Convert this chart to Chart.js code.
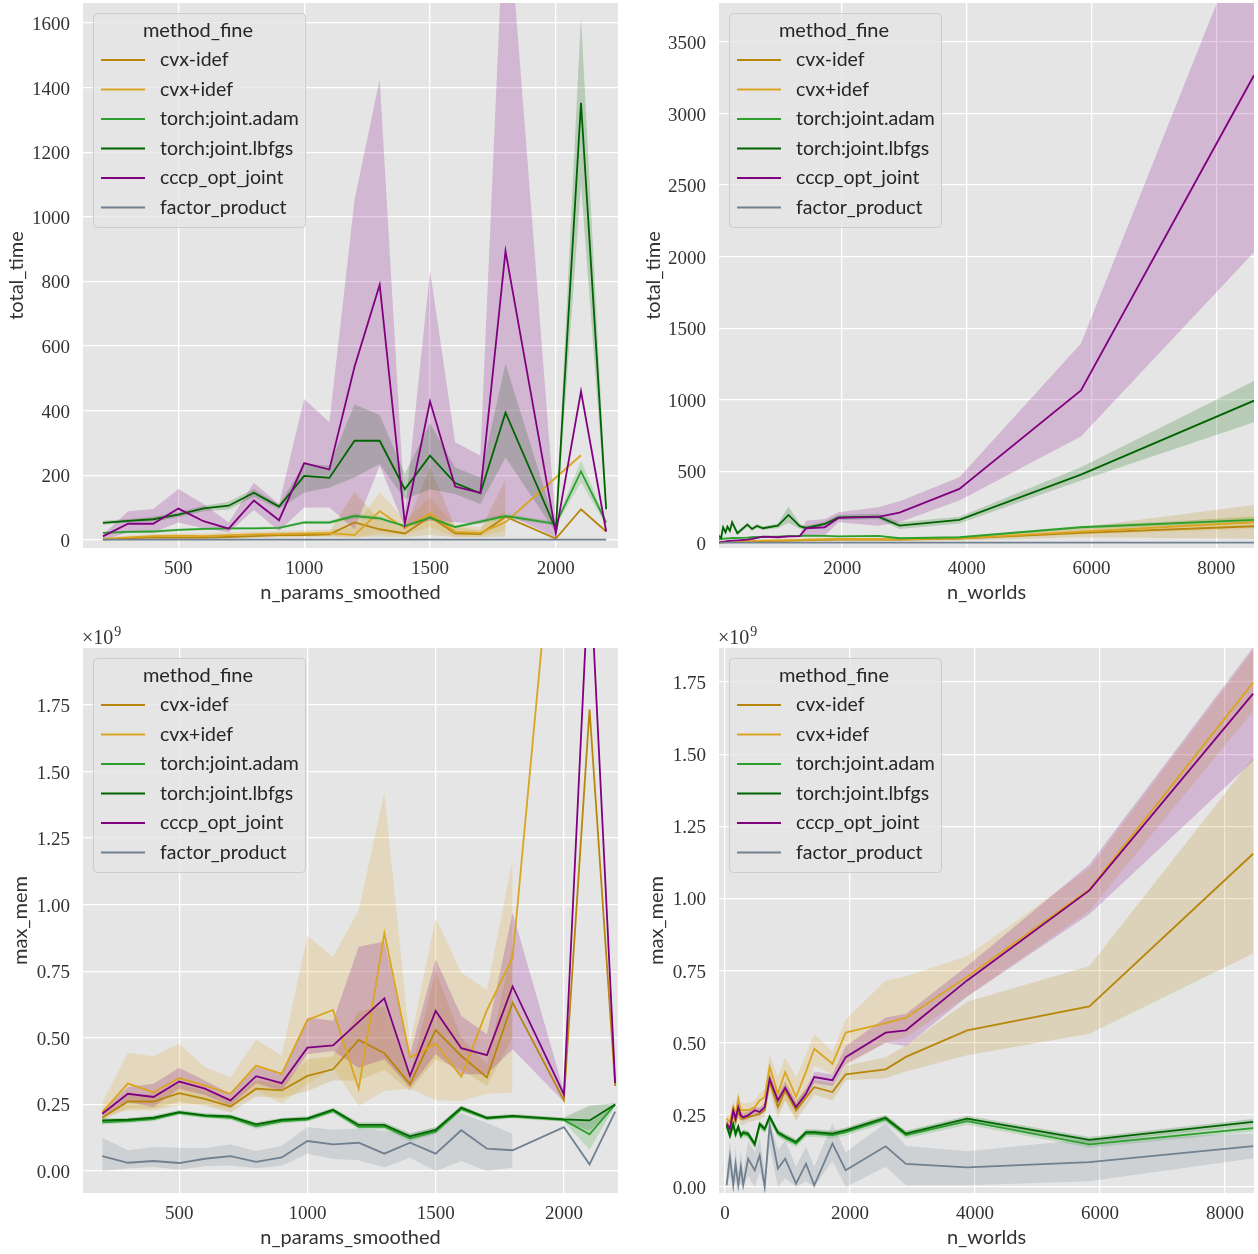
<!DOCTYPE html>
<html>
<head>
<meta charset="utf-8">
<script src="https://cdn.jsdelivr.net/npm/chart.js@4.4.0/dist/chart.umd.min.js"></script>
<style>
  html, body { margin: 0; padding: 0; background: #ffffff; }
  body { width: 1258px; height: 1254px; position: relative; overflow: hidden; }
  canvas { position: absolute; }
</style>
</head>
<body>
<canvas id="tl"></canvas>
<canvas id="tr"></canvas>
<canvas id="bl"></canvas>
<canvas id="br"></canvas>
<script>
// ---- method names and their colours (legend order) ----
const methods = ['cvx-idef', 'cvx+idef', 'torch:joint.adam', 'torch:joint.lbfgs', 'cccp_opt_joint', 'factor_product'];
const methodColors = ['#b8860b', '#daa520', '#2ca02c', '#006400', '#800080', '#708090'];

// ---- x values ----
const nParams = [200, 300, 400, 500, 600, 700, 800, 900, 1000, 1100, 1200, 1300, 1400, 1500, 1600, 1700, 1800, 2000, 2100, 2200];
const nParamsCvxPlus = [200, 300, 400, 500, 600, 700, 800, 900, 1000, 1100, 1200, 1300, 1400, 1500, 1600, 1700, 1800, 2100];
const nWorldsTime = [25, 60, 90, 130, 160, 200, 235, 320, 480, 555, 635, 730, 970, 1140, 1320, 1420, 1720, 1940, 2580, 2920, 3880, 5830, 8605];
const nWorldsMem = [26, 79, 132, 169, 212, 254, 291, 370, 476, 555, 635, 714, 846, 963, 1137, 1296, 1428, 1719, 1931, 2570, 2895, 3875, 5830, 8450];

// ---- total_time vs n_params_smoothed (mean, CI low, CI high) ----
const ptCvxMinus   = [1, 5, 8, 7, 7, 9, 12, 15, 15, 17, 54, 33, 20, 72, 20, 18, 72, 4, 95, 26];
const ptCvxMinusLo = [0, 2, 3, 3, 3, 4, 6, 8, 8, 10, 10, 10, 8, 15, 8, 8, 10];
const ptCvxMinusHi = [3, 9, 14, 12, 12, 15, 20, 24, 22, 25, 148, 60, 35, 224, 40, 30, 186];
const ptCvxPlus    = [3, 8, 12, 13, 12, 15, 17, 18, 20, 21, 15, 89, 36, 82, 25, 22, 55, 262];
const ptCvxPlusLo  = [1, 4, 6, 7, 6, 8, 9, 10, 12, 12, 5, 20, 15, 40, 10, 10, 30];
const ptCvxPlusHi  = [6, 14, 18, 20, 20, 24, 26, 28, 30, 32, 40, 148, 60, 130, 45, 40, 90];
const ptAdam       = [22, 25, 26, 31, 34, 36, 36, 37, 54, 54, 74, 67, 43, 69, 40, 57, 74, 50, 212, 54];
const ptAdamLo     = [18, 21, 22, 27, 30, 32, 32, 33, 49, 49, 66, 60, 38, 62, 36, 51, 66, 44, 178, 46];
const ptAdamHi     = [26, 29, 30, 35, 38, 40, 40, 41, 59, 59, 82, 74, 48, 76, 44, 63, 82, 56, 245, 62];
const ptLbfgs      = [53, 59, 64, 78, 98, 106, 146, 103, 198, 192, 307, 307, 157, 261, 176, 144, 394, 33, 1353, 95];
const ptLbfgsLo    = [47, 53, 57, 70, 89, 94, 134, 96, 147, 162, 193, 235, 126, 157, 142, 111, 255, 23, 1100, 70];
const ptLbfgsHi    = [59, 65, 72, 86, 106, 118, 158, 110, 235, 230, 419, 387, 204, 361, 224, 193, 545, 43, 1620, 120];
const ptCccp       = [11, 50, 50, 97, 58, 35, 122, 61, 238, 218, 536, 790, 51, 429, 165, 146, 894, 20, 460, 26];
const ptCccpLo     = [0, 23, 23, 54, 36, 23, 93, 28, 100, 100, 33, 230, 40, 60, 55, 50, 80, 8];
const ptCccpHi     = [16, 89, 96, 158, 111, 54, 177, 111, 436, 364, 1052, 1426, 85, 834, 302, 261, 2050, 45];
const ptFactor     = [1, 1, 1, 1, 1, 1, 1, 1, 1, 1, 1, 1, 1, 1, 1, 1, 1, 1, 1, 1];
const ptFactorLo   = [0, 0, 0, 0, 0, 0, 0, 0, 0, 0, 0, 0, 0, 0, 0, 0, 0];
const ptFactorHi   = [2, 2, 2, 2, 2, 2, 2, 2, 2, 2, 2, 2, 2, 2, 2, 2, 2];

// ---- total_time vs n_worlds ----
const wtCvxMinus   = [2, 3, 4, 5, 6, 7, 8, 9, 10, 12, 13, 14, 15, 17, 18, 20, 22, 24, 24, 23, 30, 70, 117];
const wtCvxMinusLo = [0, 1, 2, 2, 3, 3, 4, 4, 5, 6, 7, 7, 8, 9, 10, 11, 12, 14, 14, 14, 18, 40, 30];
const wtCvxMinusHi = [4, 5, 6, 8, 9, 11, 12, 14, 15, 18, 19, 21, 22, 25, 26, 29, 32, 34, 34, 32, 42, 110, 265];
const wtCvxPlus    = [3, 4, 5, 6, 7, 8, 9, 10, 12, 14, 15, 16, 18, 20, 22, 24, 26, 28, 28, 25, 32, 80, 145];
const wtCvxPlusLo  = [1, 2, 3, 4, 4, 5, 6, 6, 8, 9, 10, 10, 12, 13, 15, 16, 18, 20, 20, 18, 24, 60, 100];
const wtCvxPlusHi  = [5, 6, 7, 8, 10, 11, 12, 14, 16, 19, 20, 22, 24, 27, 29, 32, 34, 36, 36, 32, 40, 100, 190];
const wtAdam       = [28, 28, 30, 30, 32, 33, 35, 36, 38, 40, 42, 42, 45, 48, 50, 52, 50, 46, 50, 33, 40, 110, 161];
const wtAdamLo     = [22, 22, 24, 24, 26, 27, 29, 30, 32, 34, 36, 36, 39, 42, 44, 46, 44, 40, 44, 27, 34, 100, 140];
const wtAdamHi     = [34, 34, 36, 36, 38, 39, 41, 42, 44, 46, 48, 48, 51, 54, 56, 58, 56, 52, 56, 39, 46, 120, 182];
const wtLbfgs      = [50, 35, 110, 75, 114, 86, 144, 68, 128, 98, 119, 103, 121, 196, 117, 105, 133, 179, 184, 121, 161, 478, 994];
const wtLbfgsLo    = [35, 20, 90, 60, 98, 70, 125, 55, 112, 84, 104, 90, 105, 140, 100, 92, 118, 160, 168, 98, 137, 436, 844];
const wtLbfgsHi    = [65, 50, 130, 90, 130, 102, 163, 82, 144, 112, 134, 116, 137, 255, 134, 118, 150, 198, 205, 145, 184, 529, 1131];
const wtCccp       = [5, 7, 9, 11, 13, 15, 16, 18, 23, 28, 36, 44, 40, 46, 48, 102, 110, 175, 182, 212, 378, 1065, 3267];
const wtCccpLo     = [0, 2, 4, 6, 8, 10, 11, 13, 17, 21, 28, 36, 33, 38, 40, 50, 51, 144, 120, 145, 296, 744, 2031];
const wtCccpHi     = [10, 12, 14, 16, 18, 20, 21, 23, 29, 35, 44, 52, 47, 54, 56, 155, 168, 214, 250, 291, 459, 1394, 4422];
const wtFactor     = [2, 2, 2, 2, 2, 2, 2, 2, 2, 2, 2, 2, 2, 2, 2, 2, 2, 2, 2, 2, 2, 2, 2];
const wtFactorLo   = [1, 1, 1, 1, 1, 1, 1, 1, 1, 1, 1, 1, 1, 1, 1, 1, 1, 1, 1, 1, 1, 1, 1];
const wtFactorHi   = [3, 3, 3, 3, 3, 3, 3, 3, 3, 3, 3, 3, 3, 3, 3, 3, 3, 3, 3, 3, 3, 3, 3];

// ---- max_mem (x 1e9) vs n_params_smoothed ----
const pmCvxMinus   = [0.2, 0.261, 0.261, 0.2925, 0.271, 0.2425, 0.309, 0.3025, 0.357, 0.382, 0.492, 0.442, 0.326, 0.529, 0.432, 0.351, 0.632, 0.266, 1.733, 0.319];
const pmCvxMinusLo = [0.19, 0.235, 0.235, 0.26, 0.245, 0.22, 0.28, 0.275, 0.30, 0.34, 0.34, 0.38, 0.30, 0.42, 0.38, 0.32, 0.50];
const pmCvxMinusHi = [0.21, 0.285, 0.29, 0.33, 0.30, 0.27, 0.34, 0.33, 0.42, 0.43, 0.60, 0.62, 0.36, 0.75, 0.50, 0.40, 0.85];
const pmCvxPlus    = [0.221, 0.328, 0.296, 0.349, 0.321, 0.29, 0.396, 0.365, 0.567, 0.605, 0.309, 0.893, 0.426, 0.478, 0.354, 0.604, 0.80, 3.9];
const pmCvxPlusLo  = [0.209, 0.2275, 0.2275, 0.246, 0.25, 0.234, 0.3025, 0.2525, 0.326, 0.388, 0.244, 0.30, 0.31, 0.266, 0.263, 0.29, 0.294];
const pmCvxPlusHi  = [0.259, 0.444, 0.431, 0.4775, 0.39, 0.3525, 0.4925, 0.434, 0.883, 0.804, 0.98, 1.42, 0.48, 0.95, 0.745, 0.68, 1.17];
const pmAdam       = [0.183, 0.187, 0.195, 0.218, 0.206, 0.2, 0.168, 0.186, 0.193, 0.225, 0.166, 0.166, 0.123, 0.148, 0.232, 0.197, 0.204, 0.192, 0.138, 0.25];
const pmAdamLo     = [0.175, 0.179, 0.187, 0.21, 0.198, 0.192, 0.158, 0.178, 0.185, 0.217, 0.156, 0.156, 0.111, 0.138, 0.224, 0.19, 0.197, 0.185, 0.08, 0.245];
const pmAdamHi     = [0.191, 0.195, 0.203, 0.226, 0.214, 0.208, 0.178, 0.194, 0.201, 0.233, 0.176, 0.176, 0.135, 0.158, 0.24, 0.204, 0.211, 0.199, 0.19, 0.255];
const pmLbfgs      = [0.19, 0.1925, 0.2, 0.221, 0.209, 0.205, 0.175, 0.1925, 0.198, 0.23, 0.173, 0.173, 0.13, 0.154, 0.238, 0.20, 0.207, 0.194, 0.19, 0.25];
const pmLbfgsLo    = [0.182, 0.185, 0.192, 0.213, 0.201, 0.197, 0.167, 0.185, 0.19, 0.222, 0.163, 0.163, 0.118, 0.144, 0.23, 0.193, 0.2, 0.187, 0.15, 0.245];
const pmLbfgsHi    = [0.198, 0.2, 0.208, 0.229, 0.217, 0.213, 0.183, 0.2, 0.206, 0.238, 0.183, 0.183, 0.142, 0.164, 0.246, 0.207, 0.214, 0.201, 0.245, 0.255];
const pmCccp       = [0.215, 0.29, 0.278, 0.336, 0.309, 0.265, 0.356, 0.33, 0.463, 0.472, 0.56, 0.648, 0.357, 0.601, 0.461, 0.435, 0.693, 0.288, 2.3, 0.33];
const pmCccpLo     = [0.205, 0.259, 0.24, 0.309, 0.285, 0.245, 0.33, 0.30, 0.438, 0.451, 0.388, 0.42, 0.313, 0.438, 0.363, 0.363, 0.457, 0.26];
const pmCccpHi     = [0.225, 0.315, 0.3275, 0.3875, 0.34, 0.29, 0.39, 0.37, 0.576, 0.564, 0.842, 0.862, 0.438, 0.795, 0.582, 0.514, 0.971, 0.30];
const pmFactor     = [0.056, 0.031, 0.0375, 0.03, 0.046, 0.056, 0.034, 0.051, 0.1125, 0.1, 0.106, 0.065, 0.106, 0.065, 0.153, 0.084, 0.078, 0.165, 0.025, 0.223];
const pmFactorLo   = [0.0, 0.009, 0.015, 0.005, 0.018, 0.021, 0.01, 0.02, 0.065, 0.045, 0.04, 0.013, 0.05, 0.0, 0.038, 0.0, 0.013];
const pmFactorHi   = [0.125, 0.0775, 0.09, 0.0875, 0.085, 0.1, 0.075, 0.095, 0.165, 0.155, 0.16, 0.15, 0.14, 0.165, 0.217, 0.18, 0.14];

// ---- max_mem (x 1e9) vs n_worlds ----
const wmCvxMinus   = [0.225, 0.19, 0.254, 0.225, 0.26, 0.237, 0.237, 0.242, 0.248, 0.254, 0.266, 0.364, 0.277, 0.335, 0.266, 0.31, 0.346, 0.329, 0.39, 0.408, 0.451, 0.543, 0.626, 1.155];
const wmCvxMinusLo = [0.21, 0.17, 0.235, 0.205, 0.24, 0.215, 0.215, 0.225, 0.23, 0.235, 0.245, 0.33, 0.24, 0.3, 0.23, 0.28, 0.32, 0.3, 0.37, 0.377, 0.40, 0.457, 0.531, 0.809];
const wmCvxMinusHi = [0.24, 0.21, 0.27, 0.245, 0.28, 0.26, 0.26, 0.26, 0.265, 0.275, 0.29, 0.40, 0.31, 0.37, 0.30, 0.34, 0.37, 0.36, 0.42, 0.45, 0.49, 0.642, 0.766, 1.488];
const wmCvxPlus    = [0.237, 0.225, 0.277, 0.25, 0.306, 0.266, 0.266, 0.266, 0.277, 0.30, 0.312, 0.418, 0.323, 0.398, 0.312, 0.40, 0.479, 0.427, 0.535, 0.568, 0.587, 0.729, 1.031, 1.748];
const wmCvxPlusLo  = [0.22, 0.2, 0.255, 0.225, 0.28, 0.245, 0.245, 0.245, 0.255, 0.275, 0.29, 0.37, 0.26, 0.3, 0.24, 0.33, 0.42, 0.39, 0.42, 0.5, 0.52, 0.66, 0.957, 1.65];
const wmCvxPlusHi  = [0.255, 0.25, 0.30, 0.275, 0.33, 0.29, 0.29, 0.29, 0.30, 0.325, 0.335, 0.46, 0.38, 0.45, 0.38, 0.46, 0.53, 0.47, 0.58, 0.716, 0.73, 0.80, 1.105, 1.86];
const wmAdam       = [0.21, 0.175, 0.215, 0.18, 0.205, 0.175, 0.185, 0.18, 0.145, 0.214, 0.198, 0.24, 0.185, 0.17, 0.15, 0.185, 0.185, 0.18, 0.19, 0.235, 0.18, 0.228, 0.148, 0.204];
const wmAdamLo     = [0.198, 0.163, 0.203, 0.168, 0.193, 0.163, 0.173, 0.168, 0.133, 0.202, 0.186, 0.228, 0.173, 0.158, 0.138, 0.173, 0.173, 0.168, 0.178, 0.223, 0.168, 0.216, 0.136, 0.192];
const wmAdamHi     = [0.222, 0.187, 0.227, 0.192, 0.217, 0.187, 0.197, 0.192, 0.157, 0.226, 0.21, 0.252, 0.197, 0.182, 0.162, 0.197, 0.197, 0.192, 0.202, 0.247, 0.192, 0.24, 0.16, 0.216];
const wmLbfgs      = [0.214, 0.179, 0.219, 0.185, 0.21, 0.179, 0.19, 0.185, 0.15, 0.219, 0.202, 0.245, 0.19, 0.175, 0.156, 0.19, 0.19, 0.185, 0.196, 0.24, 0.185, 0.237, 0.163, 0.226];
const wmLbfgsLo    = [0.204, 0.169, 0.209, 0.175, 0.2, 0.169, 0.18, 0.175, 0.14, 0.209, 0.192, 0.235, 0.18, 0.165, 0.146, 0.18, 0.18, 0.175, 0.186, 0.23, 0.175, 0.227, 0.153, 0.216];
const wmLbfgsHi    = [0.224, 0.189, 0.229, 0.195, 0.22, 0.189, 0.2, 0.195, 0.16, 0.229, 0.212, 0.255, 0.2, 0.185, 0.166, 0.2, 0.2, 0.195, 0.206, 0.25, 0.195, 0.247, 0.173, 0.236];
const wmCccp       = [0.219, 0.202, 0.266, 0.237, 0.277, 0.248, 0.242, 0.248, 0.266, 0.26, 0.277, 0.375, 0.3, 0.344, 0.277, 0.323, 0.381, 0.37, 0.45, 0.535, 0.543, 0.716, 1.028, 1.71];
const wmCccpLo     = [0.205, 0.19, 0.25, 0.225, 0.262, 0.235, 0.23, 0.236, 0.252, 0.246, 0.262, 0.355, 0.285, 0.325, 0.26, 0.305, 0.36, 0.35, 0.426, 0.5, 0.488, 0.66, 0.945, 1.476];
const wmCccpHi     = [0.233, 0.215, 0.282, 0.25, 0.292, 0.262, 0.255, 0.26, 0.28, 0.274, 0.292, 0.395, 0.315, 0.363, 0.295, 0.342, 0.4, 0.39, 0.488, 0.587, 0.6, 0.766, 1.118, 1.87];
const wmFactor     = [0.006, 0.104, 0.006, 0.08, 0.006, 0.07, 0.006, 0.098, 0.058, 0.11, 0.0, 0.214, 0.064, 0.098, 0.012, 0.081, 0.006, 0.15, 0.058, 0.141, 0.08, 0.068, 0.086, 0.142];
const wmFactorLo   = [0, 0.04, 0, 0.02, 0, 0.01, 0, 0.04, 0, 0.05, 0, 0.14, 0, 0.03, 0, 0.02, 0, 0.09, 0, 0.07, 0.006, 0.006, 0.02, 0.1];
const wmFactorHi   = [0.05, 0.16, 0.05, 0.14, 0.05, 0.13, 0.05, 0.16, 0.12, 0.17, 0.05, 0.23, 0.13, 0.16, 0.07, 0.14, 0.07, 0.22, 0.12, 0.222, 0.142, 0.124, 0.166, 0.185];

// ---- tick values ----
const paramTicks = [500, 1000, 1500, 2000];
const worldTicksTime = [2000, 4000, 6000, 8000];
const worldTicksMem = [0, 2000, 4000, 6000, 8000];
const timeTicksParams = [0, 200, 400, 600, 800, 1000, 1200, 1400, 1600];
const timeTicksWorlds = [0, 500, 1000, 1500, 2000, 2500, 3000, 3500];
const memTicks = [0, 0.25, 0.5, 0.75, 1.0, 1.25, 1.5, 1.75];

// ---- helpers ----
function rgba(hex, a) {
  const n = parseInt(hex.slice(1), 16);
  return `rgba(${(n >> 16) & 255},${(n >> 8) & 255},${n & 255},${a})`;
}

const TEXT = '#333333';
const TICK_FONT = { family: 'Liberation Serif', size: 19 };
const TITLE_FONT = { family: 'Lato', size: 20 };

// axes background
const bgPlugin = {
  id: 'axesBackground',
  beforeDraw(chart) {
    const { ctx, chartArea: a } = chart;
    ctx.save();
    ctx.fillStyle = '#e5e5e5';
    ctx.fillRect(a.left, a.top, a.right - a.left, a.bottom - a.top);
    ctx.restore();
  }
};

// legend box in the upper-left corner of the axes
const legendPlugin = {
  id: 'methodLegend',
  afterDraw(chart) {
    const { ctx, chartArea: a } = chart;
    const x0 = Math.round(a.left) + 10, y0 = Math.round(a.top) + 10, w = 212, h = 214;
    ctx.save();
    ctx.beginPath();
    ctx.roundRect(x0 + 0.5, y0 + 0.5, w, h, 4);
    ctx.fillStyle = 'rgba(229,229,229,0.8)';
    ctx.fill();
    ctx.strokeStyle = '#cccccc';
    ctx.lineWidth = 1;
    ctx.stroke();
    ctx.fillStyle = '#262626';
    ctx.textBaseline = 'middle';
    ctx.textAlign = 'center';
    ctx.font = '20px Lato';
    ctx.fillText('method_fine', x0 + 105, y0 + 18);
    ctx.textAlign = 'left';
    ctx.font = '19.5px Lato';
    methods.forEach((m, i) => {
      const yy = y0 + 47 + i * 29.5;
      ctx.strokeStyle = methodColors[i];
      ctx.lineWidth = 2;
      ctx.beginPath();
      ctx.moveTo(x0 + 8, yy);
      ctx.lineTo(x0 + 52, yy);
      ctx.stroke();
      ctx.fillText(m, x0 + 67, yy);
    });
    ctx.restore();
  }
};

// "x10^9" multiplier above the memory axes
const offsetPlugin = {
  id: 'offsetText',
  afterDraw(chart, args, opts) {
    if (!opts.show) return;
    const { ctx, chartArea: a } = chart;
    ctx.save();
    ctx.fillStyle = TEXT;
    ctx.textBaseline = 'alphabetic';
    ctx.textAlign = 'left';
    ctx.font = '20px "Liberation Serif"';
    const x = a.left - 1, y = a.top - 4;
    ctx.fillText('\u00d710', x, y);
    const w = ctx.measureText('\u00d710').width;
    ctx.font = '14px "Liberation Serif"';
    ctx.fillText('9', x + w + 1, y - 8);
    ctx.restore();
  }
};

function makePanel(p) {
  const cv = document.getElementById(p.id);
  cv.width = p.w; cv.height = p.h;
  cv.style.left = p.left + 'px'; cv.style.top = p.top + 'px';
  cv.style.width = p.w + 'px'; cv.style.height = p.h + 'px';

  const datasets = [];
  // confidence bands first
  p.series.forEach((s, i) => {
    if (!s.lo) return;
    const bx = s.x.slice(0, s.lo.length);
    const loIdx = datasets.length;
    datasets.push({
      data: bx.map((x, k) => ({ x, y: s.lo[k] })),
      borderColor: 'rgba(0,0,0,0)', borderWidth: 1, pointRadius: 0, fill: false, order: 100 - i
    });
    datasets.push({
      data: bx.map((x, k) => ({ x, y: s.hi[k] })),
      borderColor: 'rgba(0,0,0,0)', borderWidth: 1, pointRadius: 0,
      fill: { target: loIdx }, backgroundColor: rgba(methodColors[i], 0.2), order: 100 - i
    });
  });
  // mean lines on top
  p.series.forEach((s, i) => {
    datasets.push({
      label: methods[i],
      data: s.x.map((x, k) => ({ x, y: s.y[k] })),
      borderColor: methodColors[i], borderWidth: 1.8, pointRadius: 0, fill: false,
      tension: 0, order: 10 - i
    });
  });

  const fmt = p.yDigits ? (v => Number(v).toFixed(p.yDigits)) : (v => String(v));

  new Chart(cv, {
    type: 'line',
    data: { datasets },
    options: {
      responsive: false, animation: false, devicePixelRatio: 1, events: [],
      layout: { padding: { top: p.padTop, right: p.padRight, left: 0, bottom: 0 } },
      plugins: {
        legend: { display: false }, tooltip: { enabled: false },
        filler: { drawTime: 'beforeDatasetsDraw', propagate: false },
        offsetText: { show: !!p.offset }
      },
      scales: {
        x: {
          type: 'linear', min: p.xMin, max: p.xMax,
          afterBuildTicks: sc => { sc.ticks = p.xTicks.map(v => ({ value: v })); },
          afterFit: sc => { sc.height = p.xh; sc.paddingLeft = 0; sc.paddingRight = 0; },
          grid: { color: '#ffffff', lineWidth: 1.3, drawTicks: false },
          border: { display: false },
          ticks: { font: TICK_FONT, color: TEXT, padding: 10, maxRotation: 0, autoSkip: false, callback: v => String(v) },
          title: { display: true, text: p.xTitle, font: TITLE_FONT, color: TEXT, padding: { top: 0, bottom: 4 } }
        },
        y: {
          type: 'linear', min: p.yMin, max: p.yMax,
          afterBuildTicks: sc => { sc.ticks = p.yTicks.map(v => ({ value: v })); },
          afterFit: sc => { sc.width = p.yw; sc.paddingTop = 0; sc.paddingBottom = 0; },
          grid: { color: '#ffffff', lineWidth: 1.3, drawTicks: false },
          border: { display: false },
          ticks: { font: TICK_FONT, color: TEXT, padding: 13, labelOffset: 2, autoSkip: false, callback: v => fmt(v) },
          title: { display: true, text: p.yTitle, font: TITLE_FONT, color: TEXT, padding: { top: p.yTitlePad, bottom: 0 } }
        }
      }
    },
    plugins: [bgPlugin, legendPlugin, offsetPlugin]
  });
}

const panels = [
  {
    id: 'tl', left: 0, top: 0, w: 620, h: 609, padTop: 3, padRight: 2, yw: 83, xh: 61,
    xMin: 121, xMax: 2247, yMin: -25, yMax: 1662,
    xTicks: paramTicks, yTicks: timeTicksParams, yDigits: 0,
    xTitle: 'n_params_smoothed', yTitle: 'total_time', yTitlePad: 5,
    series: [
      { x: nParams, y: ptCvxMinus, lo: ptCvxMinusLo, hi: ptCvxMinusHi },
      { x: nParamsCvxPlus, y: ptCvxPlus, lo: ptCvxPlusLo, hi: ptCvxPlusHi },
      { x: nParams, y: ptAdam, lo: ptAdamLo, hi: ptAdamHi },
      { x: nParams, y: ptLbfgs, lo: ptLbfgsLo, hi: ptLbfgsHi },
      { x: nParams, y: ptCccp, lo: ptCccpLo, hi: ptCccpHi },
      { x: nParams, y: ptFactor, lo: ptFactorLo, hi: ptFactorHi }
    ]
  },
  {
    id: 'tr', left: 630, top: 0, w: 628, h: 609, padTop: 3, padRight: 4, yw: 89, xh: 61,
    xMin: 25, xMax: 8605, yMin: -35, yMax: 3772,
    xTicks: worldTicksTime, yTicks: timeTicksWorlds, yDigits: 0,
    xTitle: 'n_worlds', yTitle: 'total_time', yTitlePad: 12,
    series: [
      { x: nWorldsTime, y: wtCvxMinus, lo: wtCvxMinusLo, hi: wtCvxMinusHi },
      { x: nWorldsTime, y: wtCvxPlus, lo: wtCvxPlusLo, hi: wtCvxPlusHi },
      { x: nWorldsTime, y: wtAdam, lo: wtAdamLo, hi: wtAdamHi },
      { x: nWorldsTime, y: wtLbfgs, lo: wtLbfgsLo, hi: wtLbfgsHi },
      { x: nWorldsTime, y: wtCccp, lo: wtCccpLo, hi: wtCccpHi },
      { x: nWorldsTime, y: wtFactor, lo: wtFactorLo, hi: wtFactorHi }
    ]
  },
  {
    id: 'bl', left: 0, top: 620, w: 620, h: 634, padTop: 28, padRight: 2, yw: 83, xh: 61,
    xMin: 125, xMax: 2211, yMin: -0.0826, yMax: 1.964,
    xTicks: paramTicks, yTicks: memTicks, yDigits: 2, offset: true,
    xTitle: 'n_params_smoothed', yTitle: 'max_mem', yTitlePad: 9,
    series: [
      { x: nParams, y: pmCvxMinus, lo: pmCvxMinusLo, hi: pmCvxMinusHi },
      { x: nParamsCvxPlus, y: pmCvxPlus, lo: pmCvxPlusLo, hi: pmCvxPlusHi },
      { x: nParams, y: pmAdam, lo: pmAdamLo, hi: pmAdamHi },
      { x: nParams, y: pmLbfgs, lo: pmLbfgsLo, hi: pmLbfgsHi },
      { x: nParams, y: pmCccp, lo: pmCccpLo, hi: pmCccpHi },
      { x: nParams, y: pmFactor, lo: pmFactorLo, hi: pmFactorHi }
    ]
  },
  {
    id: 'br', left: 630, top: 620, w: 628, h: 634, padTop: 28, padRight: 4, yw: 89, xh: 61,
    xMin: -96, xMax: 8464, yMin: -0.0208, yMax: 1.868,
    xTicks: worldTicksMem, yTicks: memTicks, yDigits: 2, offset: true,
    xTitle: 'n_worlds', yTitle: 'max_mem', yTitlePad: 15,
    series: [
      { x: nWorldsMem, y: wmCvxMinus, lo: wmCvxMinusLo, hi: wmCvxMinusHi },
      { x: nWorldsMem, y: wmCvxPlus, lo: wmCvxPlusLo, hi: wmCvxPlusHi },
      { x: nWorldsMem, y: wmAdam, lo: wmAdamLo, hi: wmAdamHi },
      { x: nWorldsMem, y: wmLbfgs, lo: wmLbfgsLo, hi: wmLbfgsHi },
      { x: nWorldsMem, y: wmCccp, lo: wmCccpLo, hi: wmCccpHi },
      { x: nWorldsMem, y: wmFactor, lo: wmFactorLo, hi: wmFactorHi }
    ]
  }
];

panels.forEach(makePanel);
</script>
</body>
</html>
